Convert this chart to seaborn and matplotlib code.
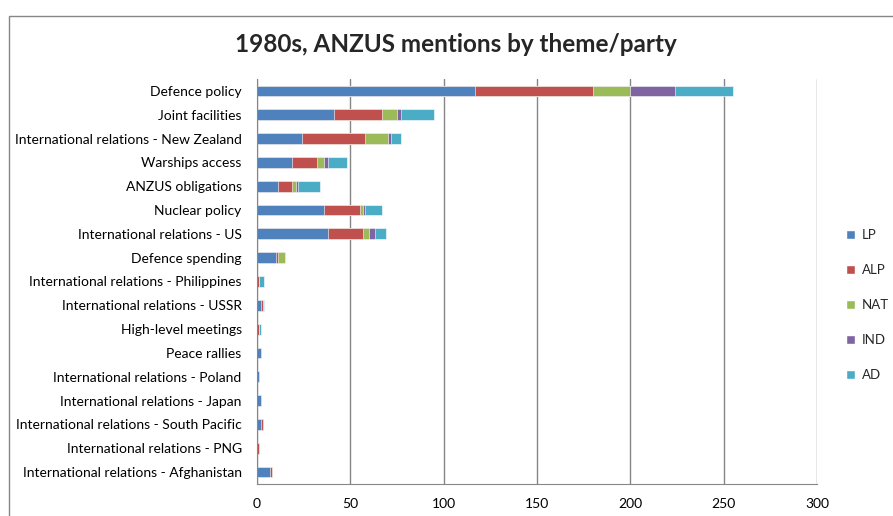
import numpy as np
import pandas as pd
import matplotlib.pyplot as plt
import seaborn as sns
from matplotlib.patches import Patch, Rectangle

themes = ["Defence policy", "Joint facilities", "International relations - New Zealand",
          "Warships access", "ANZUS obligations", "Nuclear policy",
          "International relations - US", "Defence spending",
          "International relations - Philippines", "International relations - USSR",
          "High-level meetings", "Peace rallies", "International relations - Poland",
          "International relations - Japan", "International relations - South Pacific",
          "International relations - PNG", "International relations - Afghanistan"]
lp = [117, 41, 24, 19, 11, 36, 38, 10, 0, 2, 0, 2, 1, 2, 2, 0, 7]
alp = [63, 26, 34, 13, 8, 19, 19, 1, 1, 1, 1, 0, 0, 0, 1, 1, 1]
nat = [20, 8, 12, 4, 2, 2, 3, 4, 0, 0, 0, 0, 0, 0, 0, 0, 0]
ind = [24, 2, 2, 2, 1, 1, 3, 0, 0, 0, 0, 0, 0, 0, 0, 0, 0]
ad = [31, 18, 5, 10, 12, 9, 6, 0, 3, 1, 1, 0, 0, 0, 0, 0, 0]
parties = ["LP", "ALP", "NAT", "IND", "AD"]
cl = ["#4F81BD", "#C0504D", "#9BBB59", "#8064A2", "#4BACC6"]

sns.set_style("white")
plt.rcParams['font.family'] = ['Lato', 'DejaVu Sans']

df = pd.DataFrame({"theme": themes, "LP": lp, "ALP": alp, "NAT": nat, "IND": ind, "AD": ad})
cum = df[parties].cumsum(axis=1)

fig = plt.figure(figsize=(8.93, 5.16), dpi=100)
ax = fig.add_axes([257/893, 1-484/516, 560/893, 405/516])

# stacked bars: draw running totals from the longest down
for p, c in reversed(list(zip(parties, cl))):
    sns.barplot(x=cum[p], y=df["theme"], orient="h", color=c, width=0.45,
                saturation=1, edgecolor="white", linewidth=0.4, ax=ax)

ax.set_xlim(0, 300)
ax.set_xticks(range(0, 301, 50))
ax.xaxis.grid(True, color="#868686", linewidth=1)
ax.set_axisbelow(True)
ax.set_xlabel("")
ax.set_ylabel("")
ax.tick_params(length=0, labelsize=10, colors="black")
ax.tick_params(axis="x", pad=10)
ax.tick_params(axis="y", pad=11)
ax.spines[["top", "right"]].set_visible(False)
ax.spines[["left", "bottom"]].set_color("#868686")

fig.text(456/893, 1-45/516, "1980s, ANZUS mentions by theme/party",
         ha="center", va="center", fontsize=17.5, fontweight="bold")

handles = [Patch(facecolor=c, label=p) for p, c in zip(parties, cl)]
fig.legend(handles=handles, loc="center left", bbox_to_anchor=(834/893, 1-305/516),
           frameon=False, fontsize=9.5, labelspacing=1.75, handlelength=0.7,
           handleheight=0.7, handletextpad=0.5)

fig.patches.append(Rectangle((9/893, -0.1), 1.1, 1-16/516+0.1, transform=fig.transFigure,
                             fill=False, edgecolor="#868686", linewidth=1))

fig.savefig("out.png", dpi=100)
